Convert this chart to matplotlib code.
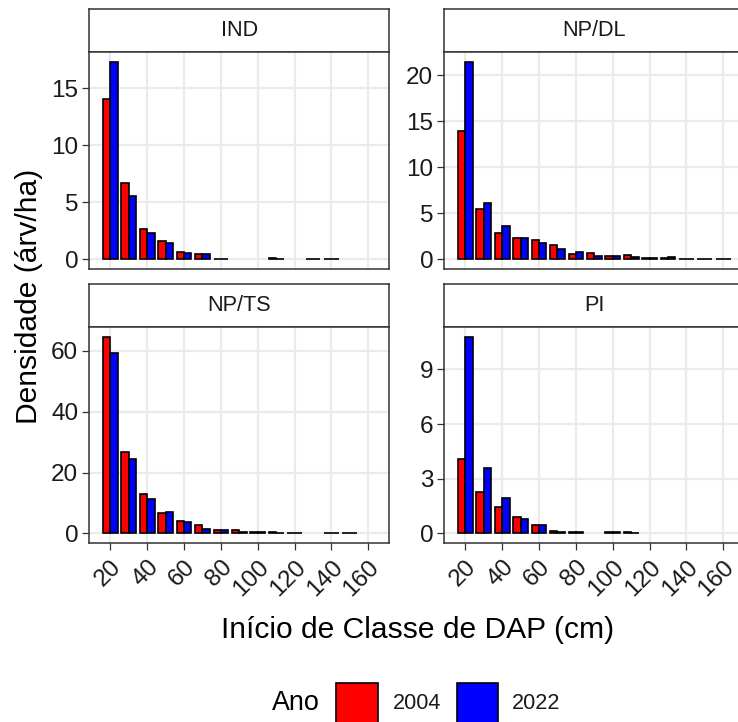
import numpy as np
import matplotlib
matplotlib.use("Agg")
import matplotlib.pyplot as plt
from matplotlib.patches import Rectangle

plt.rcParams['font.family'] = ['Liberation Sans', 'DejaVu Sans']

# classes de DAP (inicio, cm)
classes = [20, 30, 40, 50, 60, 70, 80, 90, 100, 110, 120, 130, 140, 150, 160]
anos = ['2004', '2022']
cores = ['#FF0000', '#0000FF']
grupos = ['IND', 'NP/DL', 'NP/TS', 'PI']
nan = np.nan

ind_2004 = [14.06, 6.67, 2.69, 1.63, 0.67, 0.46, 0.05, nan, nan, 0.15, nan, 0.03, 0.03, nan, nan]
ind_2022 = [17.28, 5.55, 2.34, 1.46, 0.58, 0.46, 0.05, nan, nan, 0.04, nan, 0.03, 0.03, nan, nan]
npdl_2004 = [13.97, 5.45, 2.87, 2.36, 2.07, 1.53, 0.55, 0.69, 0.33, 0.44, 0.20, 0.13, 0.05, 0.08, 0.04]
npdl_2022 = [21.42, 6.15, 3.64, 2.36, 1.78, 1.16, 0.80, 0.33, 0.33, 0.22, 0.15, 0.25, 0.05, 0.08, 0.04]
npts_2004 = [64.7, 26.6, 12.9, 6.57, 4.14, 2.7, 1.1, 1.1, 0.4, 0.4, 0.15, nan, 0.15, 0.15, nan]
npts_2022 = [59.15, 24.4, 11.3, 7.1, 3.8, 1.4, 1.1, 0.5, 0.4, 0.1, 0.15, nan, 0.15, 0.15, nan]
pi_2004 = [4.06, 2.27, 1.47, 0.92, 0.46, 0.12, 0.10, nan, 0.10, 0.07, nan, nan, nan, nan, nan]
pi_2022 = [10.8, 3.57, 1.92, 0.81, 0.46, 0.08, 0.10, nan, 0.10, 0.05, nan, nan, nan, nan, nan]

dados = {
    'IND': [ind_2004, ind_2022],
    'NP/DL': [npdl_2004, npdl_2022],
    'NP/TS': [npts_2004, npts_2022],
    'PI': [pi_2004, pi_2022],
}
passo_y = {'IND': 5, 'NP/DL': 5, 'NP/TS': 20, 'PI': 3}

W, H = 738, 722
fig = plt.figure(figsize=(W / 100, H / 100), dpi=100)


def caixa(left, top, right, bottom):
    return [left / W, 1 - bottom / H, (right - left) / W, (bottom - top) / H]


cols = [(89.3, 389.3), (444.3, 744.3)]
rows = [(9.3, 52.3, 269.3), (284.0, 326.7, 543.3)]
borda = '#333333'
largura = 4.0

for i, g in enumerate(grupos):
    r, c = divmod(i, 2)
    x0, x1 = cols[c]
    st, pt, pb = rows[r]

    # faixa com o nome do grupo
    sax = fig.add_axes(caixa(x0, st, x1, pt))
    sax.set_xticks([])
    sax.set_yticks([])
    sax.set_facecolor('white')
    for s in sax.spines.values():
        s.set_color(borda)
        s.set_linewidth(1.1)
    sax.text(0.5, 0.5, g, ha='center', va='center', fontsize=15.6, color='#1A1A1A',
             transform=sax.transAxes)

    ax = fig.add_axes(caixa(x0, pt, x1, pb))
    x = np.array(classes, dtype=float)
    for k, (ano, cor) in enumerate(zip(anos, cores)):
        y = np.array(dados[g][k], dtype=float)
        ok = ~np.isnan(y)
        ax.bar(x[ok] + (k - 0.5) * largura, y[ok], width=largura, color=cor,
               edgecolor='black', linewidth=1.2, zorder=3)

    ymax = np.nanmax(np.concatenate([np.array(v, dtype=float) for v in dados[g]]))
    ax.set_ylim(-0.05 * ymax, 1.05 * ymax)
    ax.set_xlim(8.6, 171.4)
    ax.set_yticks(np.arange(0, ymax + 0.01, passo_y[g]))
    ax.set_xticks(np.arange(20, 161, 20))
    ax.grid(True, color='#EBEBEB', linewidth=1.6, zorder=0)
    ax.set_axisbelow(True)
    for s in ax.spines.values():
        s.set_color(borda)
        s.set_linewidth(1.1)
    ax.tick_params(axis='both', length=5, width=0.9, color=borda, labelsize=17.5,
                   labelcolor='#1A1A1A')
    ax.tick_params(axis='y', pad=3)
    if r == 0:
        ax.tick_params(axis='x', length=0, labelbottom=False)
    else:
        ax.tick_params(axis='x', pad=4)
        for lab in ax.get_xticklabels():
            lab.set_rotation(45)
            lab.set_rotation_mode('anchor')
            lab.set_ha('right')
            lab.set_va('top')

fig.text(417.8 / W, 1 - 638 / H, 'Início de Classe de DAP (cm)', ha='center', va='baseline',
         fontsize=21.6)
fig.text(37 / W, 1 - 296 / H, 'Densidade (árv/ha)', ha='center', va='baseline',
         rotation=90, rotation_mode='anchor', fontsize=21.6)

# legenda
fig.text(271.7 / W, 1 - 703.5 / H, 'Ano', ha='left', va='center', fontsize=19.4)
chaves = [(336.0, 393.0), (456.7, 512.0)]
for (kx, tx), ano, cor in zip(chaves, anos, cores):
    fig.patches.append(Rectangle((kx / W, 1 - 724.4 / H), 41.7 / W, 41.7 / H,
                                 transform=fig.transFigure, facecolor=cor,
                                 edgecolor='black', linewidth=1.2))
    fig.text(tx / W, 1 - 703.5 / H, ano, ha='left', va='center', fontsize=15.6,
             color='#1A1A1A')

fig.savefig('out.png', dpi=100)
